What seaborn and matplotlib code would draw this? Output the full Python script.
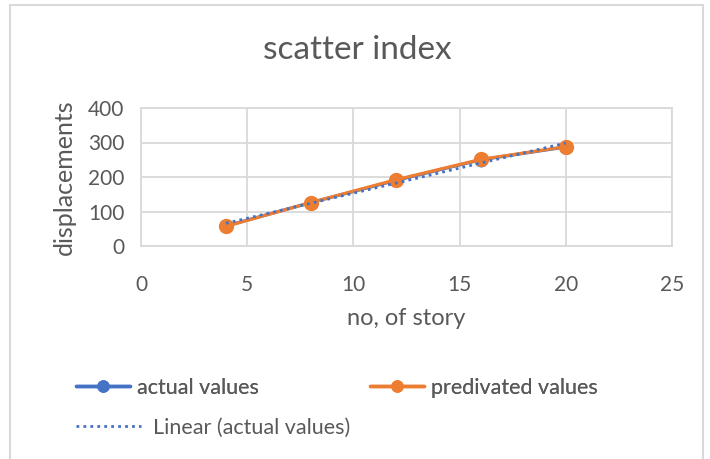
import matplotlib
matplotlib.use("Agg")
import matplotlib.pyplot as plt
from matplotlib.lines import Line2D
from matplotlib.patches import Rectangle
import seaborn as sns
import numpy as np
import pandas as pd

# Data
stories = [4, 8, 12, 16, 20]
actual_values = [58, 126, 190, 250, 287]
predicted_values = [57, 126, 192, 251, 288]
x_ticks = [0, 5, 10, 15, 20, 25]
y_ticks = [0, 100, 200, 300, 400]

blue = "#4472C4"
orange = "#ED7D31"
grid_c = "#D9D9D9"
text_c = "#595959"

sns.set_style("white")
plt.rcParams["font.family"] = ["Lato", "DejaVu Sans"]

df = pd.DataFrame({"story": stories, "actual": actual_values, "predicted": predicted_values})

fig = plt.figure(figsize=(7.1, 4.59), dpi=100)
ax = fig.add_axes([141 / 710, 1 - 246 / 459, (672 - 141) / 710, (246 - 108) / 459])

# chart border
fig.patches.append(Rectangle((10 / 710, -0.05), 693 / 710, 1.05 - 5 / 459,
                             transform=fig.transFigure, fill=False,
                             edgecolor=grid_c, linewidth=1.5))

sns.lineplot(data=df, x="story", y="actual", ax=ax, color=blue, marker="o",
             markersize=10, markeredgewidth=0, linewidth=2.3, zorder=3)
sns.lineplot(data=df, x="story", y="predicted", ax=ax, color=orange, marker="o",
             markersize=11, markeredgewidth=0, linewidth=2.3, zorder=4)

# linear trendline of actual values
coef = np.polyfit(stories, actual_values, 1)
fit_x = np.array([stories[0], stories[-1]])
ax.plot(fit_x, np.polyval(coef, fit_x), color=blue, linestyle=(0, (1, 1.5)),
        linewidth=2, zorder=5)

ax.set_xlim(0, 25)
ax.set_ylim(0, 400)
ax.set_xticks(x_ticks)
ax.set_yticks(y_ticks)
ax.grid(True, color=grid_c, linewidth=1.3)
ax.set_axisbelow(True)
for s in ax.spines.values():
    s.set_color(grid_c)
    s.set_linewidth(1.3)
ax.tick_params(axis="both", length=0, labelsize=15, labelcolor=text_c)
ax.tick_params(axis="x", pad=21)
ax.tick_params(axis="y", pad=12)

ax.set_xlabel("no, of story", fontsize=17, color=text_c, labelpad=9)
ax.set_ylabel("displacements", fontsize=18, color=text_c, labelpad=9)
fig.text(0.503, 1 - 50 / 459, "scatter index", ha="center", va="center",
         fontsize=24, color=text_c)

h_actual = Line2D([], [], color=blue, marker="o", markersize=8, linewidth=2.5)
h_pred = Line2D([], [], color=orange, marker="o", markersize=8, linewidth=2.5)
h_lin = Line2D([], [], color=blue, linestyle=(0, (1, 1.5)), linewidth=2)

leg1 = fig.legend([h_actual, h_pred], ["actual values", "predivated values"],
                  ncol=2, loc="center left", bbox_to_anchor=(57 / 710, 1 - 388 / 459),
                  frameon=False, fontsize=15.5, labelcolor=text_c, handlelength=2.5,
                  handletextpad=0.3, columnspacing=5.2)
leg2 = fig.legend([h_lin], ["Linear (actual values)"], loc="center left",
                  bbox_to_anchor=(57 / 710, 1 - 428 / 459), frameon=False,
                  fontsize=15.5, labelcolor=text_c, handlelength=3.0, handletextpad=0.55)
fig.add_artist(leg1)

fig.savefig("out.png", dpi=100)
